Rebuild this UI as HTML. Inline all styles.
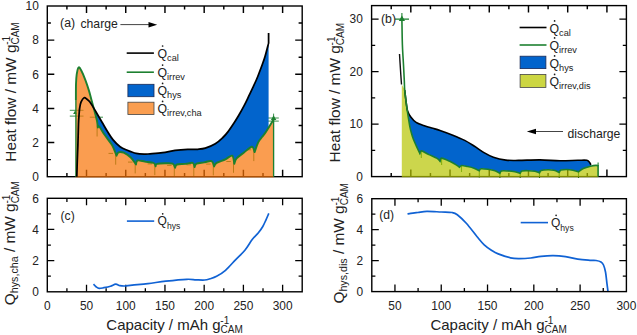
<!DOCTYPE html><html><head><meta charset="utf-8"><style>html,body{margin:0;padding:0;background:#fff;width:637px;height:335px;overflow:hidden}svg{font-family:"Liberation Sans",sans-serif}text{fill:#222}</style></head><body><svg width="637" height="335" viewBox="0 0 637 335" style="display:block">
<rect width="637" height="335" fill="#fff"/>
<path d="M97.1,125.5V136.5M115.7,153.7V164.7M108.5,153.4H113M135.2,162.4V173.4M128,162.1H132.5M154.8,164.2V175.2M147.6,163.9H152.1M174.3,165.7V176.7M167.1,165.4H171.6M193.8,165.1V176.1M186.6,164.8H191.1M213.3,164.4V175.4M206.1,164.1H210.6M233.5,161.8V172.8M226.3,161.5H230.8M253.8,150.1V161.1M246.6,149.8H251.1" stroke="#1d8030" stroke-width="0.9" fill="none"/>
<path d="M69.8,110.3H83.5M69.8,116.1H83.5M89.8,117.2H103M268,118H278.8M268,121.1H278.8M273.6,113.6V119" stroke="#1d8030" stroke-width="1" fill="none" opacity="0.85"/>
<path d="M75.1,110.5l-2,3.5h4z" fill="#1d8030"/>
<path d="M66.91,176.7v-3.6M66.91,6v3.6M86.52,176.7v-7M86.52,6v7M106.13,176.7v-3.6M106.13,6v3.6M125.74,176.7v-7M125.74,6v7M145.35,176.7v-3.6M145.35,6v3.6M164.96,176.7v-7M164.96,6v7M184.57,176.7v-3.6M184.57,6v3.6M204.18,176.7v-7M204.18,6v7M223.79,176.7v-3.6M223.79,6v3.6M243.4,176.7v-7M243.4,6v7M263.01,176.7v-3.6M263.01,6v3.6M282.62,176.7v-7M282.62,6v7M47.3,159.63h3.6M302.2,159.63h-3.6M47.3,142.56h7M302.2,142.56h-7M47.3,125.49h3.6M302.2,125.49h-3.6M47.3,108.42h7M302.2,108.42h-7M47.3,91.35h3.6M302.2,91.35h-3.6M47.3,74.28h7M302.2,74.28h-7M47.3,57.21h3.6M302.2,57.21h-3.6M47.3,40.14h7M302.2,40.14h-7M47.3,23.07h3.6M302.2,23.07h-3.6" stroke="#000" stroke-width="1.45" fill="none"/>
<rect x="47.3" y="6" width="254.9" height="170.7" fill="none" stroke="#000" stroke-width="1.4"/>
<clipPath id="cA"><path d="M75.9,176.7 C75.9,163.92 75.88,115.45 75.9,100 C75.92,84.55 75.87,88.28 76,84 C76.13,79.72 76.27,77.07 76.7,74.3 C77.13,71.53 77.82,67.98 78.6,67.4 C79.38,66.82 80.25,68.65 81.4,70.8 C82.55,72.95 84.22,76.92 85.5,80.3 C86.78,83.68 88.1,87.82 89.1,91.1 C90.1,94.38 90.73,97.17 91.5,100 C92.27,102.83 92.98,105.43 93.7,108.1 C94.42,110.77 95.23,113.73 95.8,116 C96.37,118.27 96.75,119.78 97.1,121.7 C97.45,123.62 97.77,126.53 97.9,127.5 C98.13,127.35 98.18,125.38 99.3,126.6 C100.42,127.82 102.82,132.22 104.6,134.8 C106.38,137.38 108.57,140.02 110,142.1 C111.43,144.18 112.12,145.03 113.2,147.3 C114.28,149.57 115.95,154.3 116.5,155.7 C116.83,155.13 117.3,152.8 118.5,152.3 C119.7,151.8 121.65,151.83 123.7,152.7 C125.75,153.57 128.75,155.55 130.8,157.5 C132.85,159.45 135.13,163.25 136,164.4 C136.25,163.75 136,160.97 137.5,160.5 C139,160.03 142.3,161.18 145,161.6 C147.7,162.02 151.93,162.23 153.7,163 C155.47,163.77 155.28,165.67 155.6,166.2 C155.83,165.82 155.42,164.38 157,163.9 C158.58,163.42 162.5,163.33 165.1,163.3 C167.7,163.27 170.93,162.97 172.6,163.7 C174.27,164.43 174.68,167.03 175.1,167.7 C175.42,167.17 175.32,165.13 177,164.5 C178.68,163.87 182.58,164.17 185.2,163.9 C187.82,163.63 191.13,162.37 192.7,162.9 C194.27,163.43 194.28,166.4 194.6,167.1 C194.92,166.53 194.93,164.48 196.5,163.7 C198.07,162.92 201.48,162.82 204,162.4 C206.52,161.98 209.92,160.53 211.6,161.2 C213.28,161.87 213.68,165.53 214.1,166.4 C214.52,165.82 214.72,164.08 216.6,162.9 C218.48,161.72 222.8,160.5 225.4,159.3 C228,158.1 230.72,154.95 232.2,155.7 C233.68,156.45 233.95,162.45 234.3,163.8 C234.68,162.9 234.98,160.28 236.6,158.4 C238.22,156.52 241.45,154.45 244,152.5 C246.55,150.55 250.13,146.77 251.9,146.7 C253.67,146.63 254.15,151.2 254.6,152.1 C255.2,150.47 256.97,144.82 258.2,142.3 C259.43,139.78 260.67,138.8 262,137 C263.33,135.2 264.27,134.42 266.2,131.5 C268.13,128.58 272.37,121.5 273.6,119.5 L273.6,0 L75.5,0Z"/></clipPath>
<path d="M76.8,176.7 C76.88,173.92 77.12,165.28 77.3,160 C77.48,154.72 77.7,151.05 77.9,145 C78.1,138.95 78.32,128.6 78.5,123.7 C78.68,118.8 78.82,118.13 79,115.6 C79.18,113.07 79.27,110.73 79.6,108.5 C79.93,106.27 80.25,103.98 81,102.2 C81.75,100.42 83.1,98.28 84.1,97.8 C85.1,97.32 86,98.57 87,99.3 C88,100.03 88.62,100.12 90.1,102.2 C91.58,104.28 93.88,108.42 95.9,111.8 C97.92,115.18 100.27,119.22 102.2,122.5 C104.13,125.78 105.72,128.65 107.5,131.5 C109.28,134.35 110.8,137.07 112.9,139.6 C115,142.13 117.7,144.92 120.1,146.7 C122.5,148.48 124.62,149.18 127.3,150.3 C129.98,151.42 133.22,152.77 136.2,153.4 C139.18,154.03 142.9,154.03 145.2,154.1 C147.5,154.17 147.1,154.05 150,153.8 C152.9,153.55 158.42,153.17 162.6,152.6 C166.78,152.03 170.92,150.93 175.1,150.4 C179.28,149.87 183.93,149.58 187.7,149.4 C191.47,149.22 194.77,149.5 197.7,149.3 C200.63,149.1 202.37,149.12 205.3,148.2 C208.23,147.28 212.37,145.58 215.3,143.8 C218.23,142.02 220.8,139.48 222.9,137.5 C225,135.52 226.05,134.32 227.9,131.9 C229.75,129.48 232.23,125.68 234,123 C235.77,120.32 236.77,118.78 238.5,115.8 C240.23,112.82 242.73,108.28 244.4,105.1 C246.07,101.92 247.12,99.58 248.5,96.7 C249.88,93.82 251.4,90.58 252.7,87.8 C254,85.02 255.23,82.47 256.3,80 C257.37,77.53 258.1,75.58 259.1,73 C260.1,70.42 261.3,67.28 262.3,64.5 C263.3,61.72 264.05,59.87 265.1,56.3 C266.15,52.73 268.02,45.3 268.6,43.1 L268.6,176.7 L76.8,176.7Z" fill="#0264cc" clip-path="url(#cA)"/>
<path d="M75.9,176.7 C75.9,163.92 75.88,115.45 75.9,100 C75.92,84.55 75.87,88.28 76,84 C76.13,79.72 76.27,77.07 76.7,74.3 C77.13,71.53 77.82,67.98 78.6,67.4 C79.38,66.82 80.25,68.65 81.4,70.8 C82.55,72.95 84.22,76.92 85.5,80.3 C86.78,83.68 88.1,87.82 89.1,91.1 C90.1,94.38 90.73,97.17 91.5,100 C92.27,102.83 92.98,105.43 93.7,108.1 C94.42,110.77 95.23,113.73 95.8,116 C96.37,118.27 96.75,119.78 97.1,121.7 C97.45,123.62 97.77,126.53 97.9,127.5 C98.13,127.35 98.18,125.38 99.3,126.6 C100.42,127.82 102.82,132.22 104.6,134.8 C106.38,137.38 108.57,140.02 110,142.1 C111.43,144.18 112.12,145.03 113.2,147.3 C114.28,149.57 115.95,154.3 116.5,155.7 C116.83,155.13 117.3,152.8 118.5,152.3 C119.7,151.8 121.65,151.83 123.7,152.7 C125.75,153.57 128.75,155.55 130.8,157.5 C132.85,159.45 135.13,163.25 136,164.4 C136.25,163.75 136,160.97 137.5,160.5 C139,160.03 142.3,161.18 145,161.6 C147.7,162.02 151.93,162.23 153.7,163 C155.47,163.77 155.28,165.67 155.6,166.2 C155.83,165.82 155.42,164.38 157,163.9 C158.58,163.42 162.5,163.33 165.1,163.3 C167.7,163.27 170.93,162.97 172.6,163.7 C174.27,164.43 174.68,167.03 175.1,167.7 C175.42,167.17 175.32,165.13 177,164.5 C178.68,163.87 182.58,164.17 185.2,163.9 C187.82,163.63 191.13,162.37 192.7,162.9 C194.27,163.43 194.28,166.4 194.6,167.1 C194.92,166.53 194.93,164.48 196.5,163.7 C198.07,162.92 201.48,162.82 204,162.4 C206.52,161.98 209.92,160.53 211.6,161.2 C213.28,161.87 213.68,165.53 214.1,166.4 C214.52,165.82 214.72,164.08 216.6,162.9 C218.48,161.72 222.8,160.5 225.4,159.3 C228,158.1 230.72,154.95 232.2,155.7 C233.68,156.45 233.95,162.45 234.3,163.8 C234.68,162.9 234.98,160.28 236.6,158.4 C238.22,156.52 241.45,154.45 244,152.5 C246.55,150.55 250.13,146.77 251.9,146.7 C253.67,146.63 254.15,151.2 254.6,152.1 C255.2,150.47 256.97,144.82 258.2,142.3 C259.43,139.78 260.67,138.8 262,137 C263.33,135.2 264.27,134.42 266.2,131.5 C268.13,128.58 272.37,121.5 273.6,119.5 L273.6,177.45 L75.9,177.45 Z" fill="#f87405" fill-opacity="0.7"/>
<path d="M75.9,176.7V100M273.6,119.5V176.7" stroke="#1d8030" stroke-width="1.35" fill="none"/>
<path d="M75.9,100 C75.92,97.33 75.87,88.28 76,84 C76.13,79.72 76.27,77.07 76.7,74.3 C77.13,71.53 77.82,67.98 78.6,67.4 C79.38,66.82 80.25,68.65 81.4,70.8 C82.55,72.95 84.22,76.92 85.5,80.3 C86.78,83.68 88.1,87.82 89.1,91.1 C90.1,94.38 90.73,97.17 91.5,100 C92.27,102.83 92.98,105.43 93.7,108.1 C94.42,110.77 95.23,113.73 95.8,116 C96.37,118.27 96.75,119.78 97.1,121.7 C97.45,123.62 97.77,126.53 97.9,127.5 C98.13,127.35 98.18,125.38 99.3,126.6 C100.42,127.82 102.82,132.22 104.6,134.8 C106.38,137.38 108.57,140.02 110,142.1 C111.43,144.18 112.12,145.03 113.2,147.3 C114.28,149.57 115.95,154.3 116.5,155.7 C116.83,155.13 117.3,152.8 118.5,152.3 C119.7,151.8 121.65,151.83 123.7,152.7 C125.75,153.57 128.75,155.55 130.8,157.5 C132.85,159.45 135.13,163.25 136,164.4 C136.25,163.75 136,160.97 137.5,160.5 C139,160.03 142.3,161.18 145,161.6 C147.7,162.02 151.93,162.23 153.7,163 C155.47,163.77 155.28,165.67 155.6,166.2 C155.83,165.82 155.42,164.38 157,163.9 C158.58,163.42 162.5,163.33 165.1,163.3 C167.7,163.27 170.93,162.97 172.6,163.7 C174.27,164.43 174.68,167.03 175.1,167.7 C175.42,167.17 175.32,165.13 177,164.5 C178.68,163.87 182.58,164.17 185.2,163.9 C187.82,163.63 191.13,162.37 192.7,162.9 C194.27,163.43 194.28,166.4 194.6,167.1 C194.92,166.53 194.93,164.48 196.5,163.7 C198.07,162.92 201.48,162.82 204,162.4 C206.52,161.98 209.92,160.53 211.6,161.2 C213.28,161.87 213.68,165.53 214.1,166.4 C214.52,165.82 214.72,164.08 216.6,162.9 C218.48,161.72 222.8,160.5 225.4,159.3 C228,158.1 230.72,154.95 232.2,155.7 C233.68,156.45 233.95,162.45 234.3,163.8 C234.68,162.9 234.98,160.28 236.6,158.4 C238.22,156.52 241.45,154.45 244,152.5 C246.55,150.55 250.13,146.77 251.9,146.7 C253.67,146.63 254.15,151.2 254.6,152.1 C255.2,150.47 256.97,144.82 258.2,142.3 C259.43,139.78 260.67,138.8 262,137 C263.33,135.2 264.27,134.42 266.2,131.5 C268.13,128.58 272.37,121.5 273.6,119.5" stroke="#1d8030" stroke-width="1.9" fill="none" stroke-linejoin="round"/>
<path d="M76.8,176.7 C76.88,173.92 77.12,165.28 77.3,160 C77.48,154.72 77.7,151.05 77.9,145 C78.1,138.95 78.32,128.6 78.5,123.7 C78.68,118.8 78.82,118.13 79,115.6 C79.18,113.07 79.27,110.73 79.6,108.5 C79.93,106.27 80.25,103.98 81,102.2 C81.75,100.42 83.1,98.28 84.1,97.8 C85.1,97.32 86,98.57 87,99.3 C88,100.03 88.62,100.12 90.1,102.2 C91.58,104.28 93.88,108.42 95.9,111.8 C97.92,115.18 100.27,119.22 102.2,122.5 C104.13,125.78 105.72,128.65 107.5,131.5 C109.28,134.35 110.8,137.07 112.9,139.6 C115,142.13 117.7,144.92 120.1,146.7 C122.5,148.48 124.62,149.18 127.3,150.3 C129.98,151.42 133.22,152.77 136.2,153.4 C139.18,154.03 142.9,154.03 145.2,154.1 C147.5,154.17 147.1,154.05 150,153.8 C152.9,153.55 158.42,153.17 162.6,152.6 C166.78,152.03 170.92,150.93 175.1,150.4 C179.28,149.87 183.93,149.58 187.7,149.4 C191.47,149.22 194.77,149.5 197.7,149.3 C200.63,149.1 202.37,149.12 205.3,148.2 C208.23,147.28 212.37,145.58 215.3,143.8 C218.23,142.02 220.8,139.48 222.9,137.5 C225,135.52 226.05,134.32 227.9,131.9 C229.75,129.48 232.23,125.68 234,123 C235.77,120.32 236.77,118.78 238.5,115.8 C240.23,112.82 242.73,108.28 244.4,105.1 C246.07,101.92 247.12,99.58 248.5,96.7 C249.88,93.82 251.4,90.58 252.7,87.8 C254,85.02 255.23,82.47 256.3,80 C257.37,77.53 258.1,75.58 259.1,73 C260.1,70.42 261.3,67.28 262.3,64.5 C263.3,61.72 264.05,59.87 265.1,56.3 C266.15,52.73 268.02,45.3 268.6,43.1 V33.1" stroke="#000" stroke-width="1.75" fill="none"/>
<path d="M273.6,115.2l-2.7,4.8h5.4z" fill="#1d8030"/>
<path d="M126.7,53.1H153.9" stroke="#000" stroke-width="1.6"/>
<path d="M126.7,72.2H153.9" stroke="#1d8030" stroke-width="1.6"/>
<rect x="127.9" y="84.3" width="26.1" height="12.4" fill="#0264cc" stroke="#1a2a55" stroke-width="0.8"/>
<rect x="127.9" y="102.2" width="26.1" height="12.3" fill="#fa9e50" stroke="#444" stroke-width="0.8"/>
<text x="157.5" y="57.6" font-size="12.3">Q<tspan font-size="9.2" dy="3">cal</tspan></text>
<circle cx="162.6" cy="46" r="0.85" fill="#1a1a1a"/>
<text x="157.5" y="76.7" font-size="12.3">Q<tspan font-size="9.2" dy="3">irrev</tspan></text>
<circle cx="162.6" cy="65.1" r="0.85" fill="#1a1a1a"/>
<text x="157.5" y="95" font-size="12.3">Q<tspan font-size="9.2" dy="3">hys</tspan></text>
<circle cx="162.6" cy="83.4" r="0.85" fill="#1a1a1a"/>
<text x="157.5" y="113" font-size="12.3">Q<tspan font-size="9.2" dy="3">irrev,cha</tspan></text>
<circle cx="162.6" cy="101.4" r="0.85" fill="#1a1a1a"/>
<text x="60.1" y="26.7" font-size="12.3" text-anchor="start" >(a)</text>
<text x="80.5" y="27.5" font-size="12.2" text-anchor="start" >charge</text>
<path d="M120.4,24.6H150" stroke="#444" stroke-width="1"/><path d="M157.2,24.7l-8.7,-2.7v5.4z" fill="#000"/>
<text x="38.8" y="180.95" font-size="11.9" text-anchor="end" >0</text>
<text x="38.8" y="146.81" font-size="11.9" text-anchor="end" >2</text>
<text x="38.8" y="112.67" font-size="11.9" text-anchor="end" >4</text>
<text x="38.8" y="78.53" font-size="11.9" text-anchor="end" >6</text>
<text x="38.8" y="44.39" font-size="11.9" text-anchor="end" >8</text>
<text x="38.8" y="10.25" font-size="11.9" text-anchor="end" >10</text>
<text transform="translate(15.6,161.7) rotate(-90)" font-size="15.4">Heat flow / mW g<tspan font-size="10" dy="3.5">CAM</tspan><tspan font-size="10" dy="-8.9" dx="-22.42">-1</tspan></text>
<path d="M394.9,19.1H409M401.9,13.1V19.1M598.1,162.5V166M421.3,150V158M441.6,158V165M461.5,165V172M479.3,170.8V177.5M499.9,173V178M520.2,173V178M539.5,172.8V178M559.2,172.4V178M578.5,171.8V178" stroke="#1d8030" stroke-width="1.1" fill="none"/>
<path d="M391.21,176.6v-3.6M391.21,5.6v3.6M410.82,176.6v-7M410.82,5.6v7M430.43,176.6v-3.6M430.43,5.6v3.6M450.04,176.6v-7M450.04,5.6v7M469.65,176.6v-3.6M469.65,5.6v3.6M489.26,176.6v-7M489.26,5.6v7M508.87,176.6v-3.6M508.87,5.6v3.6M528.48,176.6v-7M528.48,5.6v7M548.09,176.6v-3.6M548.09,5.6v3.6M567.7,176.6v-7M567.7,5.6v7M587.31,176.6v-3.6M587.31,5.6v3.6M606.92,176.6v-7M606.92,5.6v7M371.6,150.35h3.6M626.4,150.35h-3.6M371.6,124.1h7M626.4,124.1h-7M371.6,97.85h3.6M626.4,97.85h-3.6M371.6,71.6h7M626.4,71.6h-7M371.6,45.35h3.6M626.4,45.35h-3.6M371.6,19.1h7M626.4,19.1h-7" stroke="#000" stroke-width="1.45" fill="none"/>
<rect x="371.6" y="5.6" width="254.8" height="171" fill="none" stroke="#000" stroke-width="1.4"/>
<clipPath id="cB"><path d="M401.9,19.1 C401.98,23.42 402.13,37.35 402.4,45 C402.67,52.65 403.18,59.05 403.5,65 C403.82,70.95 404.1,76.53 404.3,80.7 C404.5,84.87 404.37,86.22 404.7,90 C405.03,93.78 405.8,99.48 406.3,103.4 C406.8,107.32 407.1,109.58 407.7,113.5 C408.3,117.42 409.23,123.48 409.9,126.9 C410.57,130.32 411.1,131.9 411.7,134 C412.3,136.1 412.62,137.25 413.5,139.5 C414.38,141.75 415.93,145.15 417,147.5 C418.07,149.85 419.42,152.58 419.9,153.6 C420.15,153.15 419.9,150.73 421.4,150.9 C422.9,151.07 426.28,153.35 428.9,154.6 C431.52,155.85 435.23,157.28 437.1,158.4 C438.97,159.52 439.6,160.82 440.1,161.3 C440.35,160.77 439.98,158.1 441.6,158.1 C443.22,158.1 447.32,160.13 449.8,161.3 C452.28,162.47 454.88,164.1 456.5,165.1 C458.12,166.1 459,166.93 459.5,167.3 C459.87,167 460.37,165.63 461.7,165.5 C463.03,165.37 465.45,166.05 467.5,166.5 C469.55,166.95 472.03,167.48 474,168.2 C475.97,168.92 478.42,170.37 479.3,170.8 C479.58,170.47 479.55,169.05 481,168.8 C482.45,168.55 485.67,168.97 488,169.3 C490.33,169.63 493.02,170.12 495,170.8 C496.98,171.48 499.08,172.97 499.9,173.4 C500.17,173 500.15,171.4 501.5,171 C502.85,170.6 505.75,170.87 508,171 C510.25,171.13 512.97,171.42 515,171.8 C517.03,172.18 519.33,173.05 520.2,173.3 C520.5,172.92 520.7,171.43 522,171 C523.3,170.57 525.83,170.65 528,170.7 C530.17,170.75 533.08,170.93 535,171.3 C536.92,171.67 538.75,172.63 539.5,172.9 C539.78,172.5 539.78,171.02 541.2,170.5 C542.62,169.98 545.87,169.83 548,169.8 C550.13,169.77 552.13,169.87 554,170.3 C555.87,170.73 558.33,172.05 559.2,172.4 C559.5,172 559.7,170.48 561,170 C562.3,169.52 565,169.47 567,169.5 C569,169.53 571.08,169.82 573,170.2 C574.92,170.58 577.58,171.53 578.5,171.8 C579.3,171.27 581.3,169.52 583.3,168.6 C585.3,167.68 588.42,166.83 590.5,166.3 C592.58,165.77 594.53,165.5 595.8,165.4 C597.07,165.3 597.72,165.65 598.1,165.7 L598.1,0 L401,0Z"/></clipPath>
<path d="M404.7,90 C404.97,92.23 405.82,99.9 406.3,103.4 C406.78,106.9 406.85,108.73 407.6,111 C408.35,113.27 409.38,115.1 410.8,117 C412.22,118.9 413.72,120.9 416.1,122.4 C418.48,123.9 422.3,125.02 425.1,126 C427.9,126.98 430.42,127.55 432.9,128.3 C435.38,129.05 436.68,129.35 440,130.5 C443.32,131.65 448.68,133.55 452.8,135.2 C456.92,136.85 461.08,138.55 464.7,140.4 C468.32,142.25 471.28,144.27 474.5,146.3 C477.72,148.33 480.85,150.77 484,152.6 C487.15,154.43 489.75,156.05 493.4,157.3 C497.05,158.55 501.72,159.58 505.9,160.1 C510.08,160.62 512.82,160.43 518.5,160.4 C524.18,160.37 533.08,159.83 540,159.9 C546.92,159.97 553.68,160.73 560,160.8 C566.32,160.87 573.42,160.38 577.9,160.3 C582.38,160.22 584.95,159.93 586.9,160.3 C588.85,160.67 588.93,161.75 589.6,162.5 C590.27,163.25 590.68,164.42 590.9,164.8 L590.9,176.6 L404.7,176.6Z" fill="#0264cc" clip-path="url(#cB)"/>
<path d="M401.8,177.35 V84.5 L404.7,90  L404.7,90 C404.97,92.23 405.8,99.48 406.3,103.4 C406.8,107.32 407.1,109.58 407.7,113.5 C408.3,117.42 409.23,123.48 409.9,126.9 C410.57,130.32 411.1,131.9 411.7,134 C412.3,136.1 412.62,137.25 413.5,139.5 C414.38,141.75 415.93,145.15 417,147.5 C418.07,149.85 419.42,152.58 419.9,153.6 C420.15,153.15 419.9,150.73 421.4,150.9 C422.9,151.07 426.28,153.35 428.9,154.6 C431.52,155.85 435.23,157.28 437.1,158.4 C438.97,159.52 439.6,160.82 440.1,161.3 C440.35,160.77 439.98,158.1 441.6,158.1 C443.22,158.1 447.32,160.13 449.8,161.3 C452.28,162.47 454.88,164.1 456.5,165.1 C458.12,166.1 459,166.93 459.5,167.3 C459.87,167 460.37,165.63 461.7,165.5 C463.03,165.37 465.45,166.05 467.5,166.5 C469.55,166.95 472.03,167.48 474,168.2 C475.97,168.92 478.42,170.37 479.3,170.8 C479.58,170.47 479.55,169.05 481,168.8 C482.45,168.55 485.67,168.97 488,169.3 C490.33,169.63 493.02,170.12 495,170.8 C496.98,171.48 499.08,172.97 499.9,173.4 C500.17,173 500.15,171.4 501.5,171 C502.85,170.6 505.75,170.87 508,171 C510.25,171.13 512.97,171.42 515,171.8 C517.03,172.18 519.33,173.05 520.2,173.3 C520.5,172.92 520.7,171.43 522,171 C523.3,170.57 525.83,170.65 528,170.7 C530.17,170.75 533.08,170.93 535,171.3 C536.92,171.67 538.75,172.63 539.5,172.9 C539.78,172.5 539.78,171.02 541.2,170.5 C542.62,169.98 545.87,169.83 548,169.8 C550.13,169.77 552.13,169.87 554,170.3 C555.87,170.73 558.33,172.05 559.2,172.4 C559.5,172 559.7,170.48 561,170 C562.3,169.52 565,169.47 567,169.5 C569,169.53 571.08,169.82 573,170.2 C574.92,170.58 577.58,171.53 578.5,171.8 C579.3,171.27 581.3,169.52 583.3,168.6 C585.3,167.68 588.42,166.83 590.5,166.3 C592.58,165.77 594.53,165.5 595.8,165.4 C597.07,165.3 597.72,165.65 598.1,165.7 L598.1,177.35Z" fill="#b6c400" fill-opacity="0.7"/>
<path d="M399.5,54 C399.67,56.67 400.17,64.92 400.5,70 C400.83,75.08 401.33,82.08 401.5,84.5" stroke="#111" stroke-width="1.4" fill="none"/>
<path d="M404.7,90 C404.97,92.23 405.82,99.9 406.3,103.4 C406.78,106.9 406.85,108.73 407.6,111 C408.35,113.27 409.38,115.1 410.8,117 C412.22,118.9 413.72,120.9 416.1,122.4 C418.48,123.9 422.3,125.02 425.1,126 C427.9,126.98 430.42,127.55 432.9,128.3 C435.38,129.05 436.68,129.35 440,130.5 C443.32,131.65 448.68,133.55 452.8,135.2 C456.92,136.85 461.08,138.55 464.7,140.4 C468.32,142.25 471.28,144.27 474.5,146.3 C477.72,148.33 480.85,150.77 484,152.6 C487.15,154.43 489.75,156.05 493.4,157.3 C497.05,158.55 501.72,159.58 505.9,160.1 C510.08,160.62 512.82,160.43 518.5,160.4 C524.18,160.37 533.08,159.83 540,159.9 C546.92,159.97 553.68,160.73 560,160.8 C566.32,160.87 573.42,160.38 577.9,160.3 C582.38,160.22 584.95,159.93 586.9,160.3 C588.85,160.67 588.93,161.75 589.6,162.5 C590.27,163.25 590.68,164.42 590.9,164.8" stroke="#000" stroke-width="1.6" fill="none"/>
<path d="M401.9,19.1 C401.98,23.42 402.13,37.35 402.4,45 C402.67,52.65 403.18,59.05 403.5,65 C403.82,70.95 404.1,76.53 404.3,80.7 C404.5,84.87 404.37,86.22 404.7,90 C405.03,93.78 405.8,99.48 406.3,103.4 C406.8,107.32 407.1,109.58 407.7,113.5 C408.3,117.42 409.23,123.48 409.9,126.9 C410.57,130.32 411.1,131.9 411.7,134 C412.3,136.1 412.62,137.25 413.5,139.5 C414.38,141.75 415.93,145.15 417,147.5 C418.07,149.85 419.42,152.58 419.9,153.6 C420.15,153.15 419.9,150.73 421.4,150.9 C422.9,151.07 426.28,153.35 428.9,154.6 C431.52,155.85 435.23,157.28 437.1,158.4 C438.97,159.52 439.6,160.82 440.1,161.3 C440.35,160.77 439.98,158.1 441.6,158.1 C443.22,158.1 447.32,160.13 449.8,161.3 C452.28,162.47 454.88,164.1 456.5,165.1 C458.12,166.1 459,166.93 459.5,167.3 C459.87,167 460.37,165.63 461.7,165.5 C463.03,165.37 465.45,166.05 467.5,166.5 C469.55,166.95 472.03,167.48 474,168.2 C475.97,168.92 478.42,170.37 479.3,170.8 C479.58,170.47 479.55,169.05 481,168.8 C482.45,168.55 485.67,168.97 488,169.3 C490.33,169.63 493.02,170.12 495,170.8 C496.98,171.48 499.08,172.97 499.9,173.4 C500.17,173 500.15,171.4 501.5,171 C502.85,170.6 505.75,170.87 508,171 C510.25,171.13 512.97,171.42 515,171.8 C517.03,172.18 519.33,173.05 520.2,173.3 C520.5,172.92 520.7,171.43 522,171 C523.3,170.57 525.83,170.65 528,170.7 C530.17,170.75 533.08,170.93 535,171.3 C536.92,171.67 538.75,172.63 539.5,172.9 C539.78,172.5 539.78,171.02 541.2,170.5 C542.62,169.98 545.87,169.83 548,169.8 C550.13,169.77 552.13,169.87 554,170.3 C555.87,170.73 558.33,172.05 559.2,172.4 C559.5,172 559.7,170.48 561,170 C562.3,169.52 565,169.47 567,169.5 C569,169.53 571.08,169.82 573,170.2 C574.92,170.58 577.58,171.53 578.5,171.8 C579.3,171.27 581.3,169.52 583.3,168.6 C585.3,167.68 588.42,166.83 590.5,166.3 C592.58,165.77 594.53,165.5 595.8,165.4 C597.07,165.3 597.72,165.65 598.1,165.7 V176.6" stroke="#1d8030" stroke-width="1.6" fill="none"/>
<path d="M401.9,15.6l-3.1,5.4h6.2z" fill="#1d8030"/>
<path d="M519.6,27.5H546.5" stroke="#000" stroke-width="1.6"/>
<path d="M519.6,45H546.5" stroke="#1d8030" stroke-width="1.6"/>
<rect x="520.1" y="56.2" width="25.8" height="12.4" fill="#0264cc" stroke="#1a2a55" stroke-width="0.8"/>
<rect x="520.1" y="74.5" width="25.8" height="12.9" fill="#ccd642" stroke="#444" stroke-width="0.8"/>
<text x="549.5" y="32.5" font-size="12.3">Q<tspan font-size="9.2" dy="3">cal</tspan></text>
<circle cx="554.6" cy="20.9" r="0.85" fill="#1a1a1a"/>
<text x="549.5" y="49.5" font-size="12.3">Q<tspan font-size="9.2" dy="3">irrev</tspan></text>
<circle cx="554.6" cy="37.9" r="0.85" fill="#1a1a1a"/>
<text x="549.5" y="67.5" font-size="12.3">Q<tspan font-size="9.2" dy="3">hys</tspan></text>
<circle cx="554.6" cy="55.9" r="0.85" fill="#1a1a1a"/>
<text x="549.5" y="86" font-size="12.3">Q<tspan font-size="9.2" dy="3">irrev,dis</tspan></text>
<circle cx="554.6" cy="74.4" r="0.85" fill="#1a1a1a"/>
<text x="381" y="23.1" font-size="12.3" text-anchor="start" >(b)</text>
<text x="567.5" y="137.5" font-size="12.2" text-anchor="start" >discharge</text>
<path d="M535,131.5H563" stroke="#444" stroke-width="1"/><path d="M526.8,131.5l9.2,-2.7v5.4z" fill="#000"/>
<text x="362.8" y="180.85" font-size="11.9" text-anchor="end" >0</text>
<text x="362.8" y="128.35" font-size="11.9" text-anchor="end" >10</text>
<text x="362.8" y="75.85" font-size="11.9" text-anchor="end" >20</text>
<text x="362.8" y="23.35" font-size="11.9" text-anchor="end" >30</text>
<text transform="translate(340.2,162.4) rotate(-90)" font-size="15.4">Heat flow / mW g<tspan font-size="10" dy="3.5">CAM</tspan><tspan font-size="10" dy="-8.9" dx="-22.42">-1</tspan></text>
<path d="M66.91,291.8v-3.6M66.91,198.3v3.6M86.52,291.8v-7M86.52,198.3v7M106.13,291.8v-3.6M106.13,198.3v3.6M125.74,291.8v-7M125.74,198.3v7M145.35,291.8v-3.6M145.35,198.3v3.6M164.96,291.8v-7M164.96,198.3v7M184.57,291.8v-3.6M184.57,198.3v3.6M204.18,291.8v-7M204.18,198.3v7M223.79,291.8v-3.6M223.79,198.3v3.6M243.4,291.8v-7M243.4,198.3v7M263.01,291.8v-3.6M263.01,198.3v3.6M282.62,291.8v-7M282.62,198.3v7M47.3,276.22h3.6M302.2,276.22h-3.6M47.3,260.63h7M302.2,260.63h-7M47.3,245.05h3.6M302.2,245.05h-3.6M47.3,229.47h7M302.2,229.47h-7M47.3,213.88h3.6M302.2,213.88h-3.6" stroke="#000" stroke-width="1.3" fill="none"/>
<path d="M93.5,284.2 C93.97,284.67 95.35,286.3 96.3,287 C97.25,287.7 97.93,288.28 99.2,288.4 C100.47,288.52 102.02,288.07 103.9,287.7 C105.78,287.33 108.53,286.78 110.5,286.2 C112.47,285.62 114.13,284.3 115.7,284.2 C117.27,284.1 118.42,285.3 119.9,285.6 C121.38,285.9 122.55,286.08 124.6,286 C126.65,285.92 128.32,285.5 132.2,285.1 C136.08,284.7 142.3,284.25 147.9,283.6 C153.5,282.95 159.33,281.92 165.8,281.2 C172.27,280.48 181.67,279.53 186.7,279.3 C191.73,279.07 193.02,279.68 196,279.8 C198.98,279.92 202.27,280.17 204.6,280 C206.93,279.83 208,279.42 210,278.8 C212,278.18 214.02,277.72 216.6,276.3 C219.18,274.88 222.27,273.13 225.5,270.3 C228.73,267.47 232.77,262.63 236,259.3 C239.23,255.97 242.17,253.63 244.9,250.3 C247.63,246.97 250.15,242.22 252.4,239.3 C254.65,236.38 256.67,234.93 258.4,232.8 C260.13,230.67 261.53,228.67 262.8,226.5 C264.07,224.33 265,221.98 266,219.8 C267,217.62 268.33,214.47 268.8,213.4" stroke="#1062d4" stroke-width="1.7" fill="none"/>
<rect x="47.3" y="198.3" width="254.9" height="93.5" fill="none" stroke="#000" stroke-width="1.4"/>
<path d="M126.9,221.1H154.2" stroke="#1062d4" stroke-width="1.6"/>
<text x="157.6" y="225.4" font-size="12">Q<tspan font-size="8.6" dy="3.6">hys</tspan></text>
<circle cx="162.7" cy="213.8" r="0.85" fill="#1a1a1a"/>
<text x="60.6" y="219.6" font-size="12.1" text-anchor="start" >(c)</text>
<text x="38.8" y="296.05" font-size="11.9" text-anchor="end" >0</text>
<text x="38.8" y="264.88" font-size="11.9" text-anchor="end" >2</text>
<text x="38.8" y="233.72" font-size="11.9" text-anchor="end" >4</text>
<text x="38.8" y="202.55" font-size="11.9" text-anchor="end" >6</text>
<text x="47.3" y="310.4" font-size="11.9" text-anchor="middle" >0</text>
<text x="86.52" y="310.4" font-size="11.9" text-anchor="middle" >50</text>
<text x="125.74" y="310.4" font-size="11.9" text-anchor="middle" >100</text>
<text x="164.96" y="310.4" font-size="11.9" text-anchor="middle" >150</text>
<text x="204.18" y="310.4" font-size="11.9" text-anchor="middle" >200</text>
<text x="243.4" y="310.4" font-size="11.9" text-anchor="middle" >250</text>
<text x="282.62" y="310.4" font-size="11.9" text-anchor="middle" >300</text>
<text x="106.3" y="329.6" font-size="15">Capacity / mAh g<tspan font-size="10" dy="3.5">CAM</tspan><tspan font-size="10" dy="-8.9" dx="-22.42">-1</tspan></text>
<text transform="translate(15.4,305.2) rotate(-90)" font-size="15.4">Q<tspan font-size="10.7" dy="3">hys,cha</tspan><tspan dy="-3"> / mW g</tspan><tspan font-size="10" dy="3.5">CAM</tspan><tspan font-size="10" dy="-8.9" dx="-22.42">-1</tspan></text>
<path d="M394.95,291.6v-7M394.95,198.7v7M418.09,291.6v-3.6M418.09,198.7v3.6M441.24,291.6v-7M441.24,198.7v7M464.38,291.6v-3.6M464.38,198.7v3.6M487.53,291.6v-7M487.53,198.7v7M510.67,291.6v-3.6M510.67,198.7v3.6M533.82,291.6v-7M533.82,198.7v7M556.96,291.6v-3.6M556.96,198.7v3.6M580.11,291.6v-7M580.11,198.7v7M603.25,291.6v-3.6M603.25,198.7v3.6M371.8,276.12h3.6M626.4,276.12h-3.6M371.8,260.63h7M626.4,260.63h-7M371.8,245.15h3.6M626.4,245.15h-3.6M371.8,229.67h7M626.4,229.67h-7M371.8,214.18h3.6M626.4,214.18h-3.6" stroke="#000" stroke-width="1.3" fill="none"/>
<path d="M407.5,214 C408.05,213.9 409.07,213.65 410.8,213.4 C412.53,213.15 415.22,212.83 417.9,212.5 C420.58,212.17 423.02,211.48 426.9,211.4 C430.78,211.32 437.02,211.82 441.2,212 C445.38,212.18 449.32,212.05 452,212.5 C454.68,212.95 454.92,212.9 457.3,214.7 C459.68,216.5 463,219.63 466.3,223.3 C469.6,226.97 474.12,233.12 477.1,236.7 C480.08,240.28 481.82,242.55 484.2,244.8 C486.58,247.05 489.07,248.68 491.4,250.2 C493.73,251.72 495.03,252.63 498.2,253.9 C501.37,255.17 507,257.02 510.4,257.8 C513.8,258.58 515.2,258.57 518.6,258.6 C522,258.63 527.07,258.38 530.8,258 C534.53,257.62 537.25,256.7 541,256.3 C544.75,255.9 549.22,255.53 553.3,255.6 C557.38,255.67 561.42,256.1 565.5,256.7 C569.58,257.3 573.72,258.6 577.8,259.2 C581.88,259.8 586.95,260.08 590,260.3 C593.05,260.52 594.27,260.22 596.1,260.5 C597.93,260.78 599.77,261.25 601,262 C602.23,262.75 602.75,263.33 603.5,265 C604.25,266.67 604.92,268.85 605.5,272 C606.08,275.15 606.58,280.63 607,283.9 C607.42,287.17 607.83,290.32 608,291.6" stroke="#1062d4" stroke-width="1.7" fill="none"/>
<rect x="371.8" y="198.7" width="254.6" height="92.9" fill="none" stroke="#000" stroke-width="1.4"/>
<path d="M520.7,222.6H548" stroke="#1062d4" stroke-width="1.6"/>
<text x="551" y="226.9" font-size="12">Q<tspan font-size="8.6" dy="3.6">hys</tspan></text>
<circle cx="556.1" cy="215.3" r="0.85" fill="#1a1a1a"/>
<text x="379.3" y="219.4" font-size="12.1" text-anchor="start" >(d)</text>
<text x="363.2" y="295.85" font-size="11.9" text-anchor="end" >0</text>
<text x="363.2" y="264.88" font-size="11.9" text-anchor="end" >2</text>
<text x="363.2" y="233.92" font-size="11.9" text-anchor="end" >4</text>
<text x="363.2" y="202.95" font-size="11.9" text-anchor="end" >6</text>
<text x="394.95" y="310.4" font-size="11.9" text-anchor="middle" >50</text>
<text x="441.24" y="310.4" font-size="11.9" text-anchor="middle" >100</text>
<text x="487.53" y="310.4" font-size="11.9" text-anchor="middle" >150</text>
<text x="533.82" y="310.4" font-size="11.9" text-anchor="middle" >200</text>
<text x="580.11" y="310.4" font-size="11.9" text-anchor="middle" >250</text>
<text x="626.4" y="310.4" font-size="11.9" text-anchor="middle" >300</text>
<text x="430.4" y="329.6" font-size="15">Capacity / mAh g<tspan font-size="10" dy="3.5">CAM</tspan><tspan font-size="10" dy="-8.9" dx="-22.42">-1</tspan></text>
<text transform="translate(344,303.6) rotate(-90)" font-size="15.4">Q<tspan font-size="10.7" dy="3">hys,dis</tspan><tspan dy="-3"> / mW g</tspan><tspan font-size="10" dy="3.5">CAM</tspan><tspan font-size="10" dy="-8.9" dx="-22.42">-1</tspan></text>
</svg></body></html>
